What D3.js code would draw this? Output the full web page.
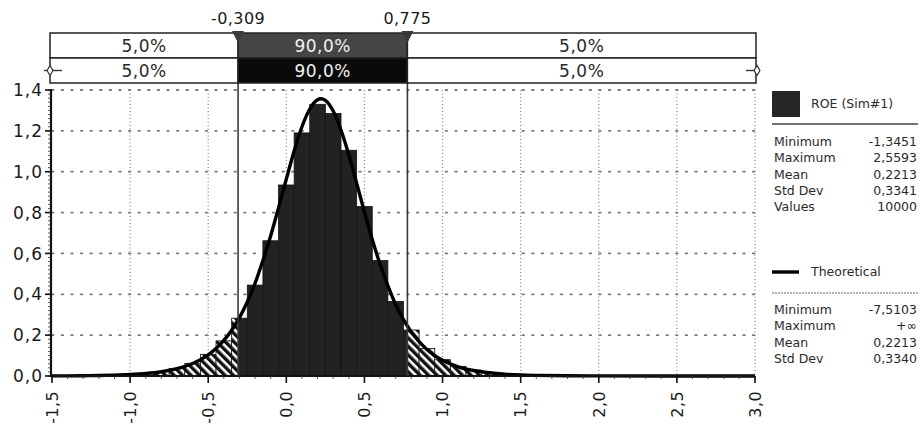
<!DOCTYPE html>
<html>
<head>
<meta charset="utf-8">
<script src="https://cdn.jsdelivr.net/npm/d3@7"></script>
<style>
  html, body { margin: 0; padding: 0; background: #fff; }
  svg { display: block; font-family: "DejaVu Sans", Verdana, sans-serif; }
</style>
</head>
<body>
<svg id="chart" width="920" height="428"></svg>
<script>
// ---------- data ----------
const xTicks = [-1.5, -1.0, -0.5, 0.0, 0.5, 1.0, 1.5, 2.0, 2.5, 3.0];
const yTicks = [0.0, 0.2, 0.4, 0.6, 0.8, 1.0, 1.2, 1.4];

const binCenters = [-1.3, -1.2, -1.1, -1.0, -0.9, -0.8, -0.7, -0.6, -0.5, -0.4, -0.3, -0.2, -0.1,
  0.0, 0.1, 0.2, 0.3, 0.4, 0.5, 0.6, 0.7, 0.8, 0.9, 1.0, 1.1, 1.2, 1.3, 1.4, 1.5, 1.6, 1.7,
  1.8, 1.9, 2.0, 2.1, 2.2, 2.3, 2.4, 2.5];
const binHeights = [0.002, 0.003, 0.005, 0.008, 0.013, 0.022, 0.037, 0.062, 0.106, 0.172, 0.283, 0.445, 0.662,
  0.935, 1.190, 1.330, 1.285, 1.105, 0.830, 0.565, 0.365, 0.225, 0.135, 0.080, 0.047, 0.028, 0.017, 0.010, 0.006, 0.004, 0.003,
  0.002, 0.001, 0.001, 0.001, 0.001, 0.001, 0.001, 0.001];
const binWidth = 0.1;

const curveX = [-1.5, -1.4, -1.3, -1.2, -1.1, -1.0, -0.9, -0.8, -0.7, -0.6, -0.5, -0.45, -0.4, -0.35, -0.3, -0.25,
  -0.2, -0.15, -0.1, -0.05, 0.0, 0.05, 0.1, 0.15, 0.2, 0.2213, 0.25, 0.3, 0.35, 0.4, 0.45, 0.5, 0.55, 0.6, 0.65,
  0.7, 0.75, 0.8, 0.85, 0.9, 0.95, 1.0, 1.1, 1.2, 1.3, 1.4, 1.5, 1.6, 1.8, 2.0, 2.5, 3.0];
const curveY = [0.0005, 0.0008, 0.0014, 0.0024, 0.0042, 0.0072, 0.0123, 0.021, 0.036, 0.061, 0.104, 0.135, 0.174, 0.224, 0.286, 0.362,
  0.454, 0.565, 0.687, 0.823, 0.964, 1.101, 1.220, 1.307, 1.352, 1.357, 1.349, 1.297, 1.204, 1.082, 0.944, 0.803, 0.668, 0.547, 0.442,
  0.349, 0.276, 0.216, 0.168, 0.130, 0.100, 0.077, 0.045, 0.027, 0.016, 0.009, 0.005, 0.003, 0.001, 0.0004, 0.0001, 0.0];

const thresholds = [-0.309, 0.775];
const thresholdLabels = ["-0,309", "0,775"];
const bandTop = ["5,0%", "90,0%", "5,0%"];
const bandBottom = ["5,0%", "90,0%", "5,0%"];

const simName = "ROE (Sim#1)";
const simStatLabels = ["Minimum", "Maximum", "Mean", "Std Dev", "Values"];
const simStatValues = ["-1,3451", "2,5593", "0,2213", "0,3341", "10000"];
const theoName = "Theoretical";
const theoStatLabels = ["Minimum", "Maximum", "Mean", "Std Dev"];
const theoStatValues = ["-7,5103", "+\u221E", "0,2213", "0,3340"];

// ---------- layout ----------
const svg = d3.select("#chart");
const fmt = d => d3.format(".1f")(d).replace(".", ",").replace("\u2212", "-");
const x = d3.scaleLinear().domain([-1.5, 3.0]).range([52, 755]);
const y = d3.scaleLinear().domain([0, 1.4]).range([376, 90]);
const plotL = x(-1.5), plotR = x(3.0), plotT = y(1.4), plotB = y(0);

const defs = svg.append("defs");
const pat = defs.append("pattern").attr("id", "hatch").attr("patternUnits", "userSpaceOnUse")
  .attr("width", 6).attr("height", 6).attr("patternTransform", "rotate(-45)");
pat.append("rect").attr("width", 6).attr("height", 6).attr("fill", "#fff");
pat.append("rect").attr("x", 0).attr("y", 0).attr("width", 3.4).attr("height", 6).attr("fill", "#111");

defs.append("clipPath").attr("id", "clipIn").append("rect")
  .attr("x", x(thresholds[0])).attr("y", 0).attr("width", x(thresholds[1]) - x(thresholds[0])).attr("height", 428);
const clipOut = defs.append("clipPath").attr("id", "clipOut");
clipOut.append("rect").attr("x", 0).attr("y", 0).attr("width", x(thresholds[0])).attr("height", 428);
clipOut.append("rect").attr("x", x(thresholds[1])).attr("y", 0).attr("width", 920 - x(thresholds[1])).attr("height", 428);

// ---------- grid ----------
const grid = svg.append("g");
grid.selectAll("line.h").data(yTicks.filter(d => d > 0)).join("line")
  .attr("x1", plotL).attr("x2", plotR).attr("y1", d => y(d)).attr("y2", d => y(d))
  .attr("stroke", "#7a7a7a").attr("stroke-width", 1.8).attr("stroke-dasharray", "1.6,8").attr("stroke-linecap", "round");
grid.selectAll("line.v").data(xTicks.filter(d => d > -1.5)).join("line")
  .attr("x1", d => x(d)).attr("x2", d => x(d)).attr("y1", plotT).attr("y2", plotB)
  .attr("stroke", "#8a8a8a").attr("stroke-width", 1.3).attr("stroke-dasharray", "1,2.5");

// ---------- histogram ----------
const bins = binCenters.map((c, i) => ({ x0: c - binWidth / 2, x1: c + binWidth / 2, h: binHeights[i] }));
const drawBars = (g, fill, stroke, sw) => g.selectAll("rect").data(bins).join("rect")
  .attr("x", d => x(d.x0)).attr("width", d => x(d.x1) - x(d.x0))
  .attr("y", d => y(d.h)).attr("height", d => y(0) - y(d.h))
  .attr("fill", fill).attr("stroke", stroke).attr("stroke-width", sw);
drawBars(svg.append("g").attr("clip-path", "url(#clipOut)"), "url(#hatch)", "#111", 0.8);
drawBars(svg.append("g").attr("clip-path", "url(#clipIn)"), "#222", "#141414", 0.8);

// ---------- theoretical curve ----------
const line = d3.line().x(d => x(d[0])).y(d => y(d[1])).curve(d3.curveMonotoneX);
svg.append("path").datum(curveX.map((v, i) => [v, curveY[i]]))
  .attr("d", line).attr("fill", "none").attr("stroke", "#000").attr("stroke-width", 3.4);

// ---------- axes ----------
const yAxis = svg.append("g");
yAxis.append("line").attr("x1", plotL - 1).attr("x2", plotL - 1).attr("y1", plotT - 1).attr("y2", plotB + 1)
  .attr("stroke", "#111").attr("stroke-width", 2.2);
yAxis.selectAll("line.minor").data(d3.range(0, 1.4001, 0.02)).join("line")
  .attr("x1", plotL - 4).attr("x2", plotL - 1).attr("y1", d => y(d)).attr("y2", d => y(d))
  .attr("stroke", "#333").attr("stroke-width", 0.8);
yAxis.selectAll("line.major").data(yTicks).join("line")
  .attr("x1", plotL - 7).attr("x2", plotL - 1).attr("y1", d => y(d)).attr("y2", d => y(d))
  .attr("stroke", "#111").attr("stroke-width", 1.6);
yAxis.selectAll("text").data(yTicks).join("text")
  .attr("x", plotL - 9).attr("y", d => y(d)).attr("dy", "0.36em").attr("text-anchor", "end")
  .attr("font-size", 17).attr("letter-spacing", 1).attr("fill", "#1a1a1a").text(fmt);

const xAxis = svg.append("g");
xAxis.append("line").attr("x1", plotL - 2).attr("x2", plotR).attr("y1", plotB).attr("y2", plotB)
  .attr("stroke", "#111").attr("stroke-width", 2.2);
xAxis.selectAll("line.minor").data(d3.range(-1.5, 3.0001, 0.1)).join("line")
  .attr("x1", d => x(d)).attr("x2", d => x(d)).attr("y1", plotB).attr("y2", plotB + 3)
  .attr("stroke", "#333").attr("stroke-width", 0.8);
xAxis.selectAll("line.major").data(xTicks).join("line")
  .attr("x1", d => x(d)).attr("x2", d => x(d)).attr("y1", plotB).attr("y2", plotB + 7)
  .attr("stroke", "#111").attr("stroke-width", 1.6);
xAxis.selectAll("text").data(xTicks).join("text")
  .attr("transform", d => `translate(${x(d)},${plotB + 15}) rotate(-90)`)
  .attr("dy", "0.36em").attr("text-anchor", "end")
  .attr("font-size", 16).attr("letter-spacing", 0.4).attr("fill", "#1a1a1a").text(fmt);

// ---------- threshold lines ----------
svg.selectAll("line.thr").data(thresholds).join("line")
  .attr("x1", d => x(d)).attr("x2", d => x(d)).attr("y1", 58).attr("y2", plotB)
  .attr("stroke", "#3a3a3a").attr("stroke-width", 1.6);

// ---------- band ----------
const bandL = plotL - 2, bandR = plotR + 1;
const edges = [bandL, x(thresholds[0]), x(thresholds[1]), bandR];
const rows = [{ y0: 33, y1: 58, labels: bandTop, mid: "#454545" }, { y0: 58, y1: 83, labels: bandBottom, mid: "#0a0a0a" }];
const band = svg.append("g");
rows.forEach(r => {
  [0, 1, 2].forEach(i => {
    band.append("rect").attr("x", edges[i]).attr("y", r.y0).attr("width", edges[i + 1] - edges[i]).attr("height", r.y1 - r.y0)
      .attr("fill", i === 1 ? r.mid : "#fff").attr("stroke", "#222").attr("stroke-width", 1.5);
    band.append("text").attr("x", (edges[i] + edges[i + 1]) / 2).attr("y", (r.y0 + r.y1) / 2).attr("dy", "0.36em")
      .attr("text-anchor", "middle").attr("font-size", 17).attr("letter-spacing", 0.5)
      .attr("fill", i === 1 ? "#f2f2f2" : "#2a2a2a").text(r.labels[i]);
  });
});
// end markers on the lower row
const my = (rows[1].y0 + rows[1].y1) / 2;
band.append("line").attr("x1", bandL - 6).attr("x2", bandL + 12).attr("y1", my).attr("y2", my).attr("stroke", "#333").attr("stroke-width", 1.4);
band.append("path").attr("d", d3.symbol(d3.symbolDiamond, 30)()).attr("transform", `translate(${bandL},${my})`)
  .attr("fill", "#fff").attr("stroke", "#333").attr("stroke-width", 1.2);
band.append("line").attr("x1", bandR - 10).attr("x2", bandR).attr("y1", my).attr("y2", my).attr("stroke", "#333").attr("stroke-width", 1.4);
band.append("path").attr("d", d3.symbol(d3.symbolDiamond, 30)()).attr("transform", `translate(${bandR + 1},${my})`)
  .attr("fill", "#fff").attr("stroke", "#333").attr("stroke-width", 1.2);

// triangles + labels
thresholds.forEach((t, i) => {
  const cx = x(t);
  band.append("path").attr("d", `M${cx - 6},31 L${cx + 6},31 L${cx},43 Z`).attr("fill", "#3a3a3a");
  band.append("text").attr("x", cx).attr("y", 24).attr("text-anchor", "middle")
    .attr("font-size", 16).attr("letter-spacing", 0.4).attr("fill", "#1a1a1a").text(thresholdLabels[i]);
});

// ---------- legend ----------
const lg = svg.append("g").attr("font-size", 12.5).attr("fill", "#2a2a2a");
const LX = 772, RX = 917;
lg.append("rect").attr("x", LX).attr("y", 91).attr("width", 28).attr("height", 26).attr("fill", "#262626");
lg.append("text").attr("x", 811).attr("y", 108).text(simName);
lg.append("line").attr("x1", LX).attr("x2", 918).attr("y1", 124).attr("y2", 124).attr("stroke", "#444").attr("stroke-width", 1.4);
simStatLabels.forEach((l, i) => {
  const yy = 146 + i * 16.3;
  lg.append("text").attr("x", LX + 2).attr("y", yy).text(l);
  lg.append("text").attr("x", RX).attr("y", yy).attr("text-anchor", "end").text(simStatValues[i]);
});
lg.append("line").attr("x1", LX).attr("x2", LX + 27).attr("y1", 272).attr("y2", 272).attr("stroke", "#000").attr("stroke-width", 3.4);
lg.append("text").attr("x", 811).attr("y", 276).text(theoName);
lg.append("line").attr("x1", LX).attr("x2", 918).attr("y1", 293).attr("y2", 293).attr("stroke", "#666").attr("stroke-width", 1.2).attr("stroke-dasharray", "2,1");
theoStatLabels.forEach((l, i) => {
  const yy = 314 + i * 16.3;
  lg.append("text").attr("x", LX + 2).attr("y", yy).text(l);
  lg.append("text").attr("x", RX).attr("y", yy).attr("text-anchor", "end").text(theoStatValues[i]);
});
</script>
</body>
</html>
